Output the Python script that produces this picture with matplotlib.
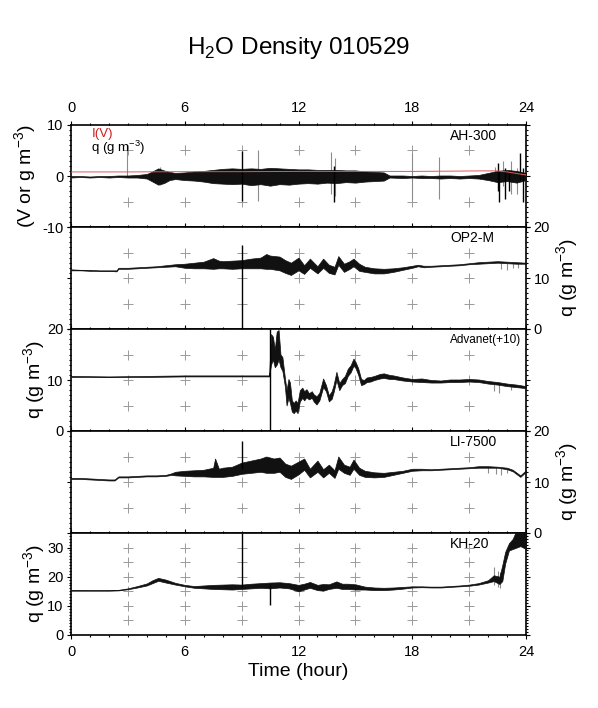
import matplotlib
matplotlib.use('Agg')
import matplotlib.pyplot as plt
from matplotlib.ticker import MultipleLocator

plt.rcParams['font.family'] = ['Liberation Sans', 'DejaVu Sans']
plt.rcParams['axes.unicode_minus'] = False

# ---- AH-300 (panel 1): envelope of q, I(V) line, spikes
t_ah = [0, 0.5, 1, 1.5, 2, 2.5, 3, 3.5, 4, 4.3, 4.6, 4.9, 5.2, 5.5, 6, 6.5, 7, 7.5, 8, 8.5,
        9, 9.5, 10, 10.5, 11, 11.5, 12, 12.5, 13, 13.5, 14, 14.5, 15, 15.5, 16, 16.5, 16.8,
        17.5, 18, 18.5, 19, 19.5, 20, 20.5, 21, 21.5, 22, 22.5, 23, 23.5, 24]
ah_lo = [-0.3, -0.2, -0.3, -0.2, -0.3, -0.2, -0.3, -0.3, -0.5, -1.1, -1.7, -1.4, -0.8, -0.6,
         -0.8, -0.9, -1.1, -1.4, -1.5, -1.6, -1.5, -1.8, -1.6, -1.9, -1.6, -1.7, -1.5, -1.4,
         -1.5, -1.3, -1.4, -1.2, -1.3, -1.1, -1.0, -0.9, -0.3, -0.4, -0.3, -0.4, -0.4, -0.5,
         -0.4, -0.5, -0.4, -0.5, -0.8, -1.2, -1.0, -1.3, -0.8]
ah_hi = [0.0, 0.0, -0.1, 0.0, 0.0, 0.1, 0.1, 0.2, 0.4, 0.9, 1.5, 1.1, 0.8, 0.6,
         0.7, 0.9, 1.0, 1.2, 1.4, 1.5, 1.4, 1.5, 1.4, 1.6, 1.5, 1.4, 1.3, 1.3,
         1.2, 1.2, 1.2, 1.1, 1.1, 0.9, 0.8, 0.7, 0.1, 0.1, 0.0, 0.1, 0.0, 0.1,
         0.1, 0.0, 0.1, 0.2, 0.6, 1.0, 1.2, 1.0, 0.6]
t_iv = [0, 3, 6, 9, 12, 15, 18, 20, 21.5, 22.5, 23, 23.5, 24]
iv = [0.8, 0.8, 0.85, 0.85, 0.9, 0.9, 0.9, 0.95, 1.0, 1.0, 0.8, 0.5, 0.2]
ah_spk_t = [9.0, 13.85, 22.5, 22.6, 22.9, 23.1, 23.7, 23.85]
ah_spk_lo = [-4.9, -5.0, -3.0, -5.0, -4.5, -3.0, -1.0, -5.0]
ah_spk_hi = [4.9, 2.0, 2.5, 1.0, 1.5, 1.0, 4.5, 1.5]
ah_gspk_t = [2.95, 4.7, 9.85, 13.7, 13.95, 18.0, 19.4, 22.35, 22.8, 23.2, 23.55, 24.0]
ah_gspk_lo = [0.0, -1.8, -4.9, -3.5, -4.0, -4.8, -4.6, -0.5, -2.0, -3.5, -3.5, -2.0]
ah_gspk_hi = [5.0, 1.8, 5.1, 4.8, 3.5, 4.6, 3.7, 1.8, 3.0, 3.0, 1.5, 4.7]

# ---- OP2-M (panel 2)
t_op = [0, 0.5, 1, 1.5, 2, 2.4, 2.5, 3, 3.5, 4, 4.5, 5, 5.5, 6, 6.5, 7, 7.5, 7.8, 8, 8.5,
        9, 9.5, 10, 10.3, 10.5, 11, 11.3, 11.6, 12, 12.3, 12.6, 13, 13.3, 13.6, 13.9, 14.1,
        14.4, 14.7, 14.9, 15.2, 15.5, 16, 16.5, 17, 17.5, 18, 18.3, 18.6, 19, 19.5, 20,
        20.5, 21, 21.5, 22, 22.5, 23, 23.5, 24]
op_lo = [11.5, 11.5, 11.4, 11.4, 11.4, 11.3, 11.8, 11.8, 11.9, 12.0, 12.1, 12.2, 12.3, 12.0,
         11.9, 11.9, 11.8, 11.9, 11.9, 11.8, 11.9, 11.9, 11.9, 11.8, 11.8, 11.5, 11.0, 10.6,
         11.5, 10.8, 12.0, 10.9, 12.0, 11.0, 10.7, 12.6, 11.2, 11.8, 12.3, 11.4, 11.2, 10.9,
         10.9, 11.2, 11.6, 12.0, 12.3, 12.1, 12.2, 12.3, 12.4, 12.5, 12.7, 12.8, 12.9, 13.0,
         12.9, 12.8, 12.8]
op_hi = [11.7, 11.6, 11.6, 11.5, 11.5, 11.5, 12.0, 12.0, 12.1, 12.2, 12.3, 12.5, 12.7, 12.8,
         13.0, 13.2, 13.9, 13.4, 13.3, 13.4, 13.5, 13.8, 14.0, 14.7, 14.4, 14.2, 13.5, 13.0,
         14.0, 12.5, 13.8, 12.3, 13.8, 12.6, 12.2, 14.3, 12.8, 13.3, 13.8, 12.8, 12.2, 11.9,
         11.8, 11.9, 12.1, 12.4, 12.6, 12.4, 12.4, 12.5, 12.6, 12.7, 12.9, 13.1, 13.2, 13.3,
         13.2, 13.1, 13.0]
op_spk_t = [9.0]
op_spk_lo = [0.0]
op_spk_hi = [16.4]
op_gspk_t = [22.7, 23.0, 23.3, 23.6]
op_gspk_lo = [11.8, 11.5, 12.0, 11.9]
op_gspk_hi = [13.0, 13.0, 13.0, 13.0]

# ---- Advanet (+10) (panel 3)
t_ad = [0, 2, 4, 6, 8, 10.45, 10.55, 10.65, 10.75, 10.85, 10.95, 11.05, 11.15, 11.28, 11.37,
        11.47, 11.55, 11.65, 11.75, 11.85, 11.95, 12.07, 12.2, 12.3, 12.42, 12.55, 12.7, 12.8,
        12.95, 13.1, 13.3, 13.45, 13.6, 13.75, 13.85, 14.0, 14.15, 14.3, 14.45, 14.6, 14.75,
        14.9, 15.0, 15.15, 15.3, 15.45, 15.6, 15.8, 16.0, 16.3, 16.5, 16.8, 17.0, 17.5, 18.0,
        18.5, 19.0, 19.5, 20.0, 20.5, 21.0, 21.5, 22.0, 22.5, 23.0, 23.5, 24.0]
ad_lo = [10.6, 10.6, 10.6, 10.7, 10.7, 10.7, 13.0, 14.0, 12.5, 13.0, 14.0, 12.5, 11.8, 8.8, 5.0,
         6.5, 5.5, 3.8, 3.5, 4.0, 3.5, 5.8, 6.5, 6.0, 6.6, 6.2, 6.5, 5.8,
         5.2, 6.0, 8.6, 7.8, 5.8, 6.3, 7.6, 10.0, 8.0, 9.0, 9.4, 10.8, 11.5,
         12.8, 12.4, 11.0, 9.0, 9.2, 9.6, 9.7, 10.0, 10.3, 10.4, 10.2, 10.2, 9.9, 9.7,
         9.6, 9.5, 9.5, 9.6, 9.6, 9.7, 9.6, 9.3, 9.1, 8.8, 8.6, 8.4]
ad_hi = [10.8, 10.7, 10.8, 10.9, 10.9, 10.9, 19.0, 18.5, 16.0, 19.5, 19.8, 15.0, 14.5, 10.5, 8.0,
         10.2, 9.5, 6.0, 5.5, 6.0, 5.5, 8.0, 8.5, 7.8, 8.2, 7.4, 7.8, 7.2,
         6.8, 7.5, 10.3, 9.0, 7.0, 7.8, 9.0, 11.6, 9.4, 10.2, 10.8, 12.2, 12.9,
         14.2, 13.6, 12.3, 10.2, 10.0, 10.5, 10.6, 10.8, 11.2, 11.3, 11.0, 10.9, 10.5, 10.2,
         10.3, 10.0, 9.9, 10.1, 10.1, 10.2, 10.1, 9.8, 9.6, 9.3, 9.1, 8.8]
ad_spk_t = [10.5]
ad_spk_lo = [0.0]
ad_spk_hi = [20.0]
ad_gspk_t = [22.3, 22.6, 23.2]
ad_gspk_lo = [7.8, 7.5, 8.0]
ad_gspk_hi = [9.5, 9.4, 9.2]

# ---- LI-7500 (panel 4)
t_li = [0, 0.5, 1, 1.5, 2, 2.3, 2.5, 3, 3.5, 4, 4.5, 5, 5.3, 5.5, 6, 6.5, 7, 7.5, 7.6, 7.8,
        8, 8.5, 9, 9.5, 10, 10.3, 10.7, 11, 11.3, 11.6, 12, 12.3, 12.6, 13, 13.3, 13.6, 13.9,
        14.1, 14.4, 14.7, 14.9, 15.2, 15.5, 16, 16.5, 17, 17.5, 18, 18.5, 19, 19.5, 20, 20.5,
        21, 21.5, 22, 22.5, 23, 23.3, 23.7, 24]
li_lo = [10.6, 10.6, 10.5, 10.4, 10.3, 10.3, 10.9, 10.9, 11.0, 11.1, 11.1, 11.2, 11.4, 11.3,
         11.2, 11.1, 11.1, 11.0, 11.0, 11.0, 11.0, 11.2, 11.6, 11.8, 12.0, 11.8, 11.8, 12.0,
         11.0, 10.6, 11.5, 12.4, 10.9, 12.0, 10.9, 11.8, 10.8, 12.6, 11.8, 11.4, 12.6, 11.4,
         11.0, 10.9, 11.0, 11.4, 11.8, 12.2, 12.3, 12.3, 12.4, 12.5, 12.6, 12.7, 12.8, 12.8,
         12.8, 12.5, 12.1, 11.0, 12.0]
li_hi = [10.8, 10.8, 10.7, 10.6, 10.5, 10.5, 11.1, 11.1, 11.2, 11.3, 11.3, 11.4, 11.7, 12.0,
         12.2, 12.3, 12.4, 12.8, 14.6, 12.6, 12.8, 13.0, 13.8, 14.2, 14.6, 15.0, 14.6, 14.8,
         13.6, 13.2, 14.0, 14.6, 12.6, 14.2, 12.5, 13.4, 12.3, 15.0, 13.4, 13.0, 14.4, 12.8,
         12.2, 11.9, 11.8, 12.0, 12.2, 12.6, 12.6, 12.5, 12.6, 12.7, 12.8, 12.9, 13.1, 13.1,
         13.0, 12.8, 12.4, 11.3, 12.3]
li_spk_t = [9.0]
li_spk_lo = [12.5]
li_spk_hi = [18.0]
li_gspk_t = [22.0, 22.4, 22.7, 23.0]
li_gspk_lo = [11.8, 11.6, 11.3, 11.7]
li_gspk_hi = [12.9, 12.9, 12.8, 12.6]

# ---- KH-20 (panel 5)
t_kh = [0, 1, 2, 2.5, 3, 3.5, 4, 4.3, 4.6, 5.0, 5.5, 6, 6.5, 7, 7.5, 8, 8.5, 9, 9.5, 10,
        10.5, 11, 11.5, 12, 12.3, 12.6, 13, 13.3, 13.6, 14, 14.3, 14.6, 15, 15.5, 16, 16.5,
        17, 17.5, 18, 18.5, 19, 19.5, 20, 20.5, 21, 21.5, 22, 22.3, 22.6, 22.75, 22.9, 23.1,
        23.3, 23.5, 23.7, 24]
kh_lo = [15.2, 15.2, 15.2, 15.3, 15.7, 16.3, 17.0, 17.8, 18.6, 18.0, 17.3, 16.7, 16.2, 16.0,
         15.8, 15.7, 15.6, 15.8, 16.0, 16.2, 16.0, 16.3, 16.0, 15.0, 15.6, 16.2, 15.4, 15.2,
         15.8, 16.2, 15.8, 15.8, 15.6, 15.6, 15.4, 15.4, 15.6, 15.9, 16.3, 16.4, 16.3, 16.3,
         16.5, 16.7, 16.9, 17.3, 18.0, 18.5, 17.5, 18.5, 24.5, 29.0, 29.5, 30.0, 30.5, 29.5]
kh_hi = [15.5, 15.4, 15.4, 15.5, 16.0, 16.8, 17.7, 18.8, 19.6, 19.0, 17.9, 17.2, 16.8, 17.0,
         17.2, 17.3, 17.4, 17.3, 17.6, 17.8, 18.0, 18.1, 17.8, 17.2, 17.6, 18.2, 17.2, 17.5,
         17.4, 18.4, 17.6, 17.6, 17.4, 16.6, 16.3, 16.2, 16.3, 16.5, 16.7, 16.7, 16.6, 16.6,
         16.8, 17.0, 17.3, 17.8, 18.8, 20.5, 20.0, 24.0, 28.5, 31.5, 33.0, 36.0, 36.0, 36.0]
kh_spk_t = [9.0, 10.5]
kh_spk_lo = [16.5, 10.4]
kh_spk_hi = [35.0, 17.5]
kh_gspk_t = [22.3, 22.5, 22.65]
kh_gspk_lo = [17.0, 16.6, 16.0]
kh_gspk_hi = [23.5, 22.0, 21.5]

panels = [
    ('AH-300', t_ah, ah_lo, ah_hi, ah_spk_t, ah_spk_lo, ah_spk_hi, ah_gspk_t, ah_gspk_lo, ah_gspk_hi),
    ('OP2-M', t_op, op_lo, op_hi, op_spk_t, op_spk_lo, op_spk_hi, op_gspk_t, op_gspk_lo, op_gspk_hi),
    ('Advanet(+10)', t_ad, ad_lo, ad_hi, ad_spk_t, ad_spk_lo, ad_spk_hi, ad_gspk_t, ad_gspk_lo, ad_gspk_hi),
    ('LI-7500', t_li, li_lo, li_hi, li_spk_t, li_spk_lo, li_spk_hi, li_gspk_t, li_gspk_lo, li_gspk_hi),
    ('KH-20', t_kh, kh_lo, kh_hi, kh_spk_t, kh_spk_lo, kh_spk_hi, kh_gspk_t, kh_gspk_lo, kh_gspk_hi),
]
y_ranges = [(-10, 10), (0, 20), (0, 20), (0, 20), (0, 35)]
label_side = ['left', 'right', 'left', 'right', 'left']
cross_hours = [3, 6, 9, 12, 15, 18, 21]

fig = plt.figure(figsize=(5.98, 7.08), dpi=100)
W, H = 598.0, 708.0
left_px, right_px, top_px, ph = 71, 526, 125, 102

qlab = r'q (g m$^{\mathregular{-3}}$)'

for i, (name, t, lo, hi, st, slo, shi, gt, glo, ghi) in enumerate(panels):
    bot = 1 - (top_px + ph * (i + 1)) / H
    ax = fig.add_axes([left_px / W, bot, (right_px - left_px) / W, ph / H])
    y0, y1 = y_ranges[i]

    # gray grid crosses (not on the zero line of the top panel)
    cy = [v for v in range(y0 + 5, y1, 5) if not (i == 0 and v == 0)]
    xs = [h for h in cross_hours for _ in cy]
    ys = [v for _ in cross_hours for v in cy]
    ax.scatter(xs, ys, marker='+', s=55, c='#9a9a9a', linewidths=0.7, zorder=1)

    # data
    ax.vlines(gt, glo, ghi, colors='#8c8c8c', linewidth=0.8, zorder=2)
    ax.fill_between(t, lo, hi, facecolor='#111111', edgecolor='#111111', linewidth=0.5, zorder=3)
    ax.vlines(st, slo, shi, colors='k', linewidth=1.0, zorder=4)
    if i == 0:
        ax.plot(t_iv, iv, color='#e05858', linewidth=0.7, zorder=5)
        ax.text(0.045, 0.915, 'I(V)', color='#d02020', fontsize=9.5, transform=ax.transAxes,
                ha='left', va='center')
        ax.text(0.043, 0.78, qlab, color='k', fontsize=9.5, transform=ax.transAxes,
                ha='left', va='center')

    ax.text(0.833, 0.89, name, fontsize=8.5 if name.startswith('Adv') else 10,
            transform=ax.transAxes, ha='left', va='center')

    ax.set_xlim(0, 24)
    ax.set_ylim(y0, y1)
    ax.xaxis.set_major_locator(MultipleLocator(6))
    ax.xaxis.set_minor_locator(MultipleLocator(1))
    ax.yaxis.set_major_locator(MultipleLocator(10))
    ax.yaxis.set_minor_locator(MultipleLocator(1))
    for sp in ax.spines.values():
        sp.set_linewidth(1.2)
    ax.tick_params(which='both', direction='out', top=True, right=True, width=0.8)
    ax.tick_params(which='major', length=3)
    ax.tick_params(which='minor', length=1.5)
    ax.tick_params(axis='both', labelsize=10.5)
    ax.tick_params(axis='x', labelbottom=(i == 4), labeltop=(i == 0), pad=4)
    left_lab = label_side[i] == 'left'
    ax.tick_params(axis='y', labelleft=left_lab, labelright=not left_lab, pad=2.5)

    if i == 0:
        ax.text(-0.099, 0.5, '(V or g m$^{\\mathregular{-3}}$)', fontsize=14, rotation=90,
                transform=ax.transAxes, ha='center', va='center')
    elif left_lab:
        ax.text(-0.079, 0.5, qlab, fontsize=14, rotation=90, transform=ax.transAxes,
                ha='center', va='center')
    else:
        ax.text(1.092, 0.5, qlab, fontsize=14, rotation=90, transform=ax.transAxes,
                ha='center', va='center')

fig.text(298 / W, 1 - 48 / H, r'H$_{\mathregular{2}}$O Density 010529', fontsize=17.5,
         ha='center', va='center')
fig.text(298 / W, 1 - 672 / H, 'Time (hour)', fontsize=14, ha='center', va='center')

fig.savefig('out.png', dpi=100)
